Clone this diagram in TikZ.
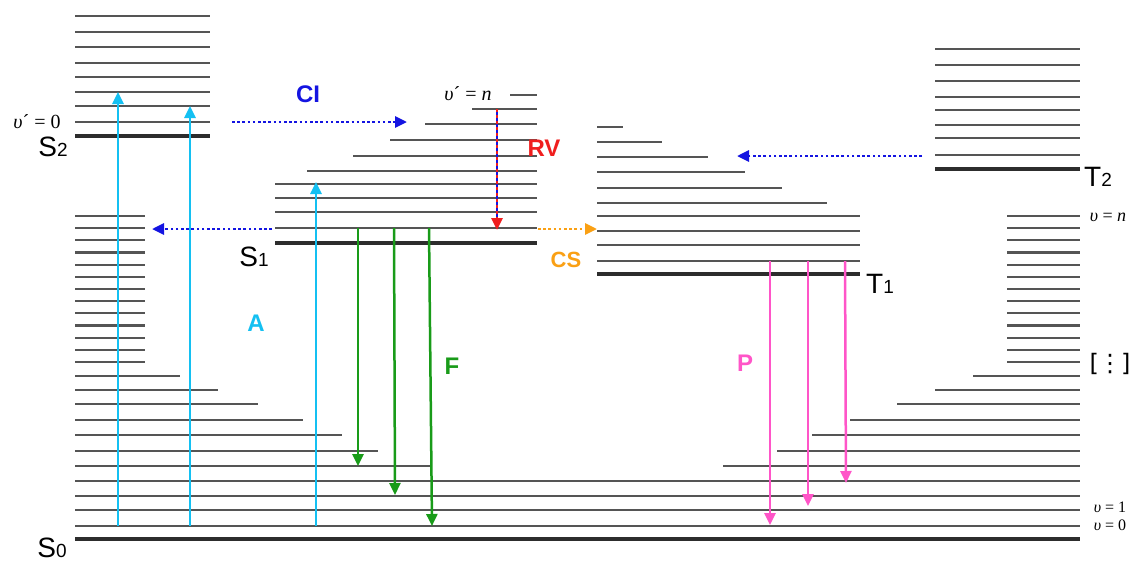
\documentclass[tikz,border=0pt]{standalone}
\usepackage{fontspec}
\setsansfont{Liberation Sans}
\newfontfamily\vibfont{Liberation Serif}
\newfontfamily\symfont{DejaVu Sans}
\usetikzlibrary{arrows.meta}
\definecolor{levelgray}{RGB}{85,85,85}
\definecolor{groundgray}{RGB}{45,45,45}
\definecolor{absc}{RGB}{20,192,242}
\definecolor{cic}{RGB}{20,20,225}
\definecolor{rvc}{RGB}{240,30,30}
\definecolor{csc}{RGB}{250,160,20}
\definecolor{fluc}{RGB}{25,155,25}
\definecolor{phoc}{RGB}{255,85,200}
\begin{document}
\begin{tikzpicture}[x=1pt,y=-1pt,
  lvl/.style={levelgray,line width=2.1pt},
  gnd/.style={groundgray,line width=3.2pt},
  tipped/.style={-{Triangle[length=12pt,width=11pt]}},
  absorb/.style={tipped,absc,line width=2.7pt},
  fluor/.style={tipped,fluc,line width=2.5pt},
  phos/.style={tipped,phoc,line width=2.5pt},
  conv/.style={tipped,cic,line width=2.8pt,dash pattern=on 2.6pt off 2.6pt},
  cross/.style={tipped,csc,line width=2.8pt,dash pattern=on 2.6pt off 2.6pt},
  statelbl/.style={inner sep=0pt,font=\sffamily},
  proclbl/.style={inner sep=0pt,font=\fontsize{24}{24}\selectfont\sffamily\bfseries},
  vlbl/.style={inner sep=0pt,font=\fontsize{18}{18}\selectfont\vibfont}]
\useasboundingbox (0,0) rectangle (1138,563);
\fill[white] (0,0) rectangle (1138,563);

% ---- S0 manifold ----
\draw[gnd] (75,539) -- (1080,539);
\foreach \y in {526,510,496,481} \draw[lvl] (75,\y) -- (1080,\y);
\foreach \y/\xl/\xr in {466/430/723, 451/378/777, 435/342/812, 420/303/850,
                        404/258/897, 390/218/935, 376/180/973} {
  \draw[lvl] (75,\y) -- (\xl,\y);
  \draw[lvl] (\xr,\y) -- (1080,\y);
}
\foreach \i in {0,...,12} {
  \draw[lvl] (75,362-12.17*\i) -- (145,362-12.17*\i);
  \draw[lvl] (1007,362-12.17*\i) -- (1080,362-12.17*\i);
}

% ---- S2 manifold ----
\foreach \y in {16,32,47,63,77,92,106,122} \draw[lvl] (75,\y) -- (210,\y);
\draw[gnd] (75,136) -- (210,136);

% ---- S1 manifold ----
\foreach \y/\xs in {95/510, 109/472, 124/425, 140/390, 156/353, 171/307,
                    184/275, 198/275, 212/275, 228/275}
  \draw[lvl] (\xs,\y) -- (537,\y);
\draw[gnd] (275,243) -- (537,243);

% ---- T1 manifold ----
\foreach \y/\xe in {127/623, 142/662, 157/708, 172/745, 188/782, 203/827,
                    216/860, 231/860, 245/860, 261/860}
  \draw[lvl] (597,\y) -- (\xe,\y);
\draw[gnd] (597,274) -- (860,274);

% ---- T2 manifold ----
\foreach \y in {49,65,81,97,110,125,138,155} \draw[lvl] (935,\y) -- (1080,\y);
\draw[gnd] (935,169) -- (1080,169);

% ---- end points of the transitions ----
\coordinate (a1b) at (118,526); \coordinate (a1t) at (118,92);
\coordinate (a2b) at (190,526); \coordinate (a2t) at (190,106);
\coordinate (a3b) at (316,526); \coordinate (a3t) at (316,182);
\coordinate (f1t) at (358,228); \coordinate (f1b) at (358,466);
\coordinate (f2t) at (394,228); \coordinate (f2b) at (395,495);
\coordinate (f3t) at (429,228); \coordinate (f3b) at (432,526);
\coordinate (p1t) at (770,261); \coordinate (p1b) at (770,525);
\coordinate (p2t) at (808,261); \coordinate (p2b) at (808,506);
\coordinate (p3t) at (845,261); \coordinate (p3b) at (846,483);
\coordinate (ci1s) at (232,122); \coordinate (ci1e) at (407,122);
\coordinate (ci2s) at (272,229); \coordinate (ci2e) at (152,229);
\coordinate (ci3s) at (922,156); \coordinate (ci3e) at (737,156);
\coordinate (rvs) at (497,109);  \coordinate (rve) at (497,230);
\coordinate (css) at (538,229);  \coordinate (cse) at (597,229);

% absorption
\draw[absorb] (a1b) -- (a1t);
\draw[absorb] (a2b) -- (a2t);
\draw[absorb] (a3b) -- (a3t);
% fluorescence
\draw[fluor] (f1t) -- (f1b);
\draw[fluor] (f2t) -- (f2b);
\draw[fluor] (f3t) -- (f3b);
% phosphorescence
\draw[phos] (p1t) -- (p1b);
\draw[phos] (p2t) -- (p2b);
\draw[phos] (p3t) -- (p3b);
% internal conversion
\draw[conv] (ci1s) -- (ci1e);
\draw[conv] (ci2s) -- (ci2e);
\draw[conv] (ci3s) -- (ci3e);
% vibrational relaxation
\draw[cic,line width=2.8pt,shorten >=9pt] (rvs) -- (rve);
\draw[tipped,rvc,line width=2.8pt,dash pattern=on 3.4pt off 2.6pt] (rvs) -- (rve);
% intersystem crossing
\draw[cross] (css) -- (cse);

% ---- state labels ----
\node[statelbl] (lS2) at (53,147) {\fontsize{28}{28}\selectfont S\fontsize{19}{19}\selectfont 2};
\node[statelbl] (lS1) at (254,257) {\fontsize{28}{28}\selectfont S\fontsize{19}{19}\selectfont 1};
\node[statelbl] (lS0) at (52,548) {\fontsize{28}{28}\selectfont S\fontsize{19}{19}\selectfont 0};
\node[statelbl] (lT1) at (880,284) {\fontsize{28}{28}\selectfont T\fontsize{19}{19}\selectfont 1};
\node[statelbl] (lT2) at (1098,177) {\fontsize{28}{28}\selectfont T\fontsize{19}{19}\selectfont 2};

% ---- process labels ----
\node[proclbl,text=cic]  (lCI) at (308,94)  {CI};
\node[proclbl,text=rvc]  (lRV) at (544,148) {RV};
\node[proclbl,text=csc,font=\fontsize{22}{22}\selectfont\sffamily\bfseries] (lCS) at (566,260) {CS};
\node[proclbl,text=absc] (lA)  at (256,323) {A};
\node[proclbl,text=fluc] (lF)  at (452,366) {F};
\node[proclbl,text=phoc] (lP)  at (745,363) {P};

% ---- vibrational quantum numbers ----
\node[vlbl,font=\fontsize{20}{20}\selectfont\vibfont] (v0p) at (37,122) {\itshape υ\upshape´ = 0};
\node[vlbl,font=\fontsize{20}{20}\selectfont\vibfont] (vnp) at (468,94) {\itshape υ\upshape´ = \itshape n};
\node[vlbl] (vn)  at (1108,217) {\itshape υ \upshape= \itshape n};
\node[vlbl,font=\fontsize{16}{16}\selectfont\vibfont] (v1) at (1110,507) {\itshape υ \upshape= 1};
\node[vlbl,font=\fontsize{16}{16}\selectfont\vibfont] (v0) at (1110,525) {\itshape υ \upshape= 0};
\node[inner sep=0pt,font=\fontsize{24}{24}\selectfont\symfont] (vdots) at (1110,364) {[\kern-1pt⋮\kern-1pt]};
\end{tikzpicture}
\end{document}
